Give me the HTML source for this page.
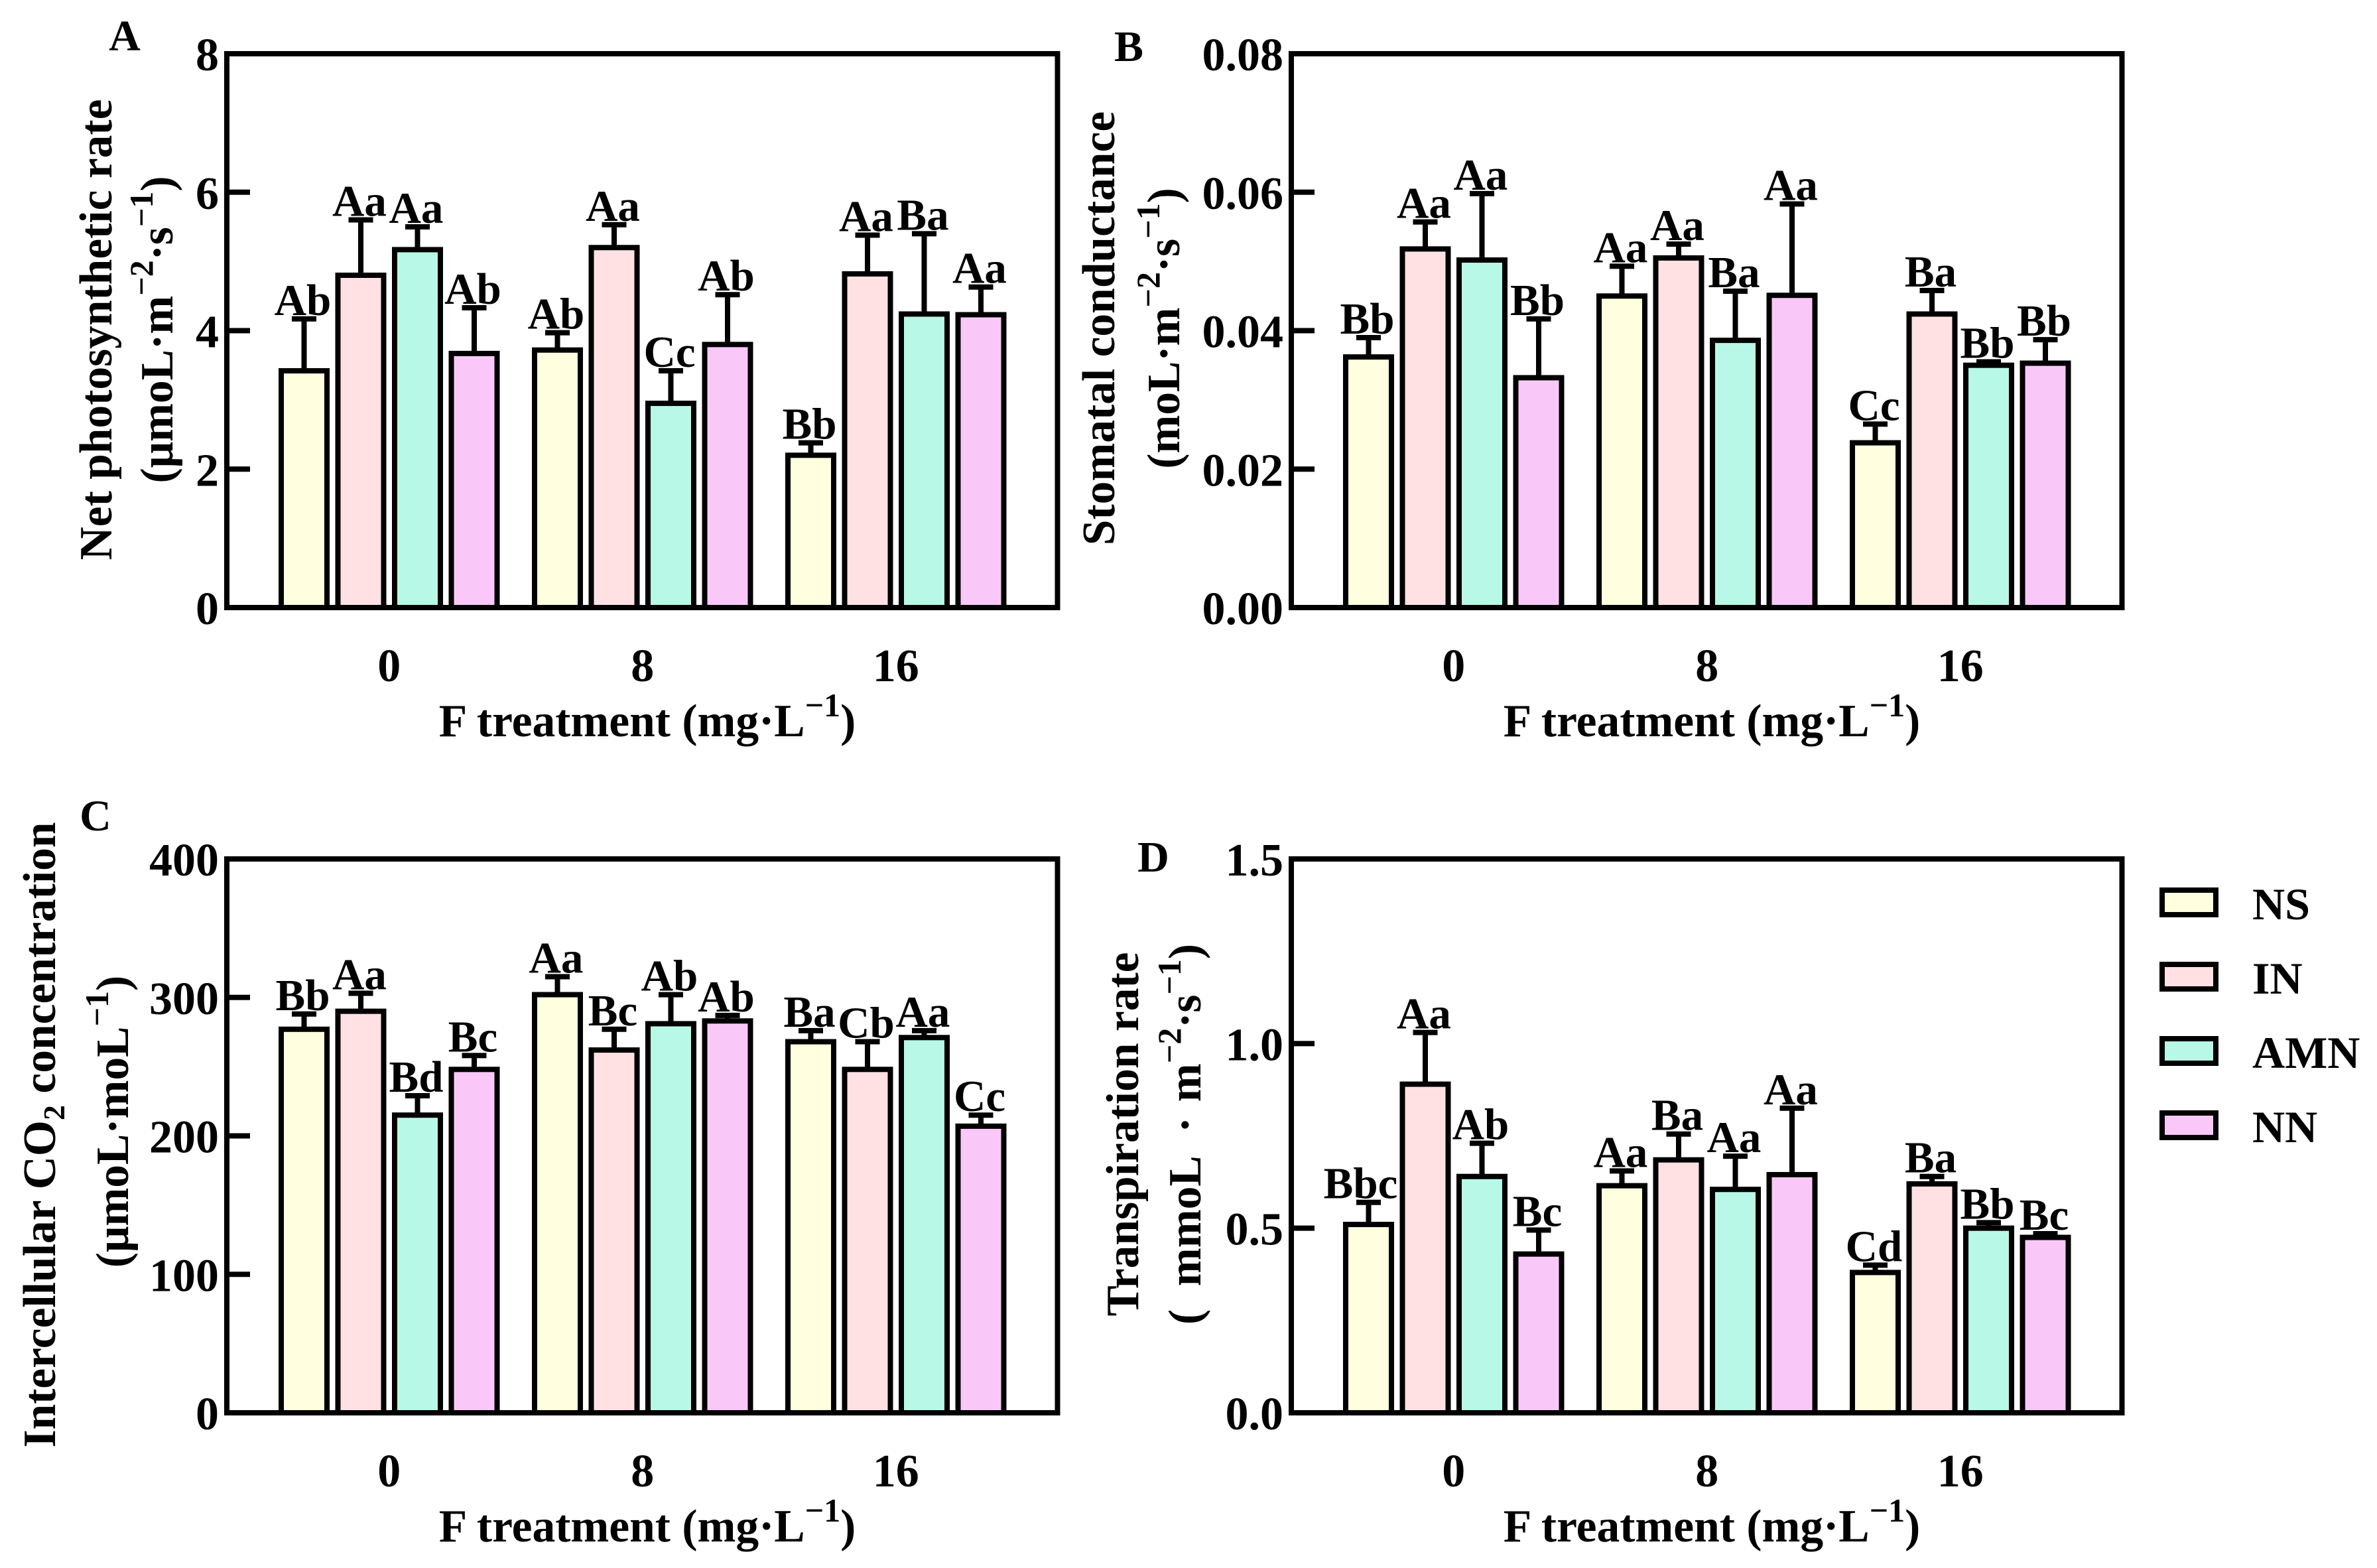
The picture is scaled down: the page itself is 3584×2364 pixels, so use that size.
<!DOCTYPE html>
<html lang="en">
<head>
<meta charset="utf-8">
<title>Gas exchange under F treatment</title>
<style>
html,body{margin:0;padding:0;background:#fff;}
svg{display:block;}
text{font-family:"Liberation Serif",serif;font-weight:bold;fill:#000;}
</style>
</head>
<body>
<svg id="chart" xmlns="http://www.w3.org/2000/svg" width="3584" height="2364" viewBox="0 0 3584 2364"></svg>
<script>
const categories = ['0', '8', '16'];
const seriesNames = ['NS', 'IN', 'AMN', 'NN'];
const seriesColors = ['#FFFFE0', '#FFE1E3', '#B8F8E6', '#F9C8F8'];

const aTicks = ['0', '2', '4', '6', '8'];
const aNS = [3.42, 3.72, 2.2];
const aIN = [4.8, 5.2, 4.82];
const aAMN = [5.17, 2.95, 4.24];
const aNN = [3.67, 3.8, 4.23];
const aNSErr = [0.75, 0.25, 0.18];
const aINErr = [0.8, 0.33, 0.56];
const aAMNErr = [0.33, 0.47, 1.16];
const aNNErr = [0.66, 0.72, 0.4];
const aNSSig = ['Ab', 'Ab', 'Bb'];
const aINSig = ['Aa', 'Aa', 'Aa'];
const aAMNSig = ['Aa', 'Cc', 'Ba'];
const aNNSig = ['Ab', 'Ab', 'Aa'];

const bTicks = ['0.00', '0.02', '0.04', '0.06', '0.08'];
const bNS = [0.0362, 0.045, 0.0238];
const bIN = [0.0518, 0.0505, 0.0424];
const bAMN = [0.0502, 0.0386, 0.035];
const bNN = [0.0332, 0.0451, 0.0353];
const bNSErr = [0.0028, 0.0043, 0.0027];
const bINErr = [0.0039, 0.002, 0.0034];
const bAMNErr = [0.0096, 0.0071, 0.0005];
const bNNErr = [0.0085, 0.0132, 0.0034];
const bNSSig = ['Bb', 'Aa', 'Cc'];
const bINSig = ['Aa', 'Aa', 'Ba'];
const bAMNSig = ['Aa', 'Ba', 'Bb'];
const bNNSig = ['Bb', 'Aa', 'Bb'];

const cTicks = ['0', '100', '200', '300', '400'];
const cNS = [277, 302, 268];
const cIN = [290, 262, 248];
const cAMN = [215, 281, 271];
const cNN = [248, 283, 207];
const cNSErr = [11, 13, 8];
const cINErr = [13, 15, 20];
const cAMNErr = [14, 21, 5];
const cNNErr = [10, 4, 8];
const cNSSig = ['Bb', 'Aa', 'Ba'];
const cINSig = ['Aa', 'Bc', 'Cb'];
const cAMNSig = ['Bd', 'Ab', 'Aa'];
const cNNSig = ['Bc', 'Ab', 'Cc'];

const dTicks = ['0.0', '0.5', '1.0', '1.5'];
const dNS = [0.51, 0.615, 0.38];
const dIN = [0.89, 0.685, 0.62];
const dAMN = [0.64, 0.605, 0.5];
const dNN = [0.43, 0.645, 0.475];
const dNSErr = [0.06, 0.04, 0.02];
const dINErr = [0.14, 0.07, 0.02];
const dAMNErr = [0.09, 0.09, 0.015];
const dNNErr = [0.065, 0.18, 0.01];
const dNSSig = ['Bbc', 'Aa', 'Cd'];
const dINSig = ['Aa', 'Ba', 'Ba'];
const dAMNSig = ['Ab', 'Aa', 'Bb'];
const dNNSig = ['Bc', 'Aa', 'Bc'];

const NS = 'http://www.w3.org/2000/svg';
const svg = document.getElementById('chart');
const TITLE_SIZE = 69.5;

function add(parent, tag, attrs, text) {
  const el = document.createElementNS(NS, tag);
  for (const k in attrs) el.setAttribute(k, attrs[k]);
  if (text !== undefined) el.textContent = text;
  parent.appendChild(el);
  return el;
}

function richText(el, parts) {
  parts.forEach(function (p) {
    if (p[1] === 'sup') {
      add(el, 'tspan', { dy: -30, 'font-size': 50 }, p[0]);
      add(el, 'tspan', { dy: 30, 'font-size': TITLE_SIZE }, '\u200b');
    } else if (p[1] === 'sub') {
      add(el, 'tspan', { dy: 14, 'font-size': 46 }, p[0]);
      add(el, 'tspan', { dy: -14, 'font-size': TITLE_SIZE }, '\u200b');
    } else {
      add(el, 'tspan', {}, p[0]);
    }
  });
}

function drawPanel(cfg) {
  const g = add(svg, 'g', {});
  
  
  const L = cfg.left, R = cfg.left + 1252.5, T = cfg.top, B = cfg.top + 835;
  const yScale = function (v) { return B - (v / cfg.yMax) * (B - T); };
  const xBand = function (c) { return L + 244.75 + c * 382; };
  const xBar = function (c, s) { return xBand(c) + (s - 1.5) * 85.5; };
  const BW = 69, CAP = 37, SW = 8;

  cfg.values.forEach(function (vals, s) {
    vals.forEach(function (v, c) {
      const x = xBar(c, s), top = yScale(v), errTop = yScale(v + cfg.errors[s][c]);
      const stem = add(g, 'line', { x1: x, x2: x, y1: top, y2: errTop, stroke: '#000', 'stroke-width': SW });
      
      
      const cap = add(g, 'line', { x1: x - CAP / 2, x2: x + CAP / 2, y1: errTop, y2: errTop, stroke: '#000', 'stroke-width': SW });
      
      
      const bar = add(g, 'rect', { x: x - BW / 2, y: top, width: BW, height: B - top, fill: seriesColors[s], stroke: '#000', 'stroke-width': SW });
      
      
      const sigText = cfg.sig[s][c];
      const sigX = sigText.length > 2 ? x - 12 : x - 2;
      const sig = add(g, 'text', { x: sigX, y: errTop - 6, 'font-size': 67, 'text-anchor': 'middle' }, sigText);
      
      
    });
  });

  const frame = add(g, 'rect', { x: L, y: T, width: R - L, height: B - T, fill: 'none', stroke: '#000', 'stroke-width': SW });
  
  

  const n = cfg.ticks.length;
  cfg.ticks.forEach(function (t, i) {
    const v = cfg.yMax * i / (n - 1), y = yScale(v);
    const tick = add(g, 'line', { x1: L, x2: L + 35, y1: y, y2: y, stroke: '#000', 'stroke-width': SW });
    
    
    const lab = add(g, 'text', { x: L - 12, y: y + 25, 'font-size': 70, 'text-anchor': 'end' }, t);
    
    
  });

  categories.forEach(function (cat, c) {
    const lab = add(g, 'text', { x: xBand(c), y: B + 111, 'font-size': 70, 'text-anchor': 'middle' }, cat);
    
    
  });

  const xt = add(g, 'text', { x: L + 634, y: B + 194, 'font-size': TITLE_SIZE, 'text-anchor': 'middle' });
  
  
  richText(xt, [['F treatment (mg\u00b7L'], ['\u22121', 'sup'], [')']]);

  cfg.titles.forEach(function (tl) {
    const yt = add(g, 'text', { transform: 'translate(' + tl.x + ',' + tl.y + ') rotate(-90)', 'font-size': TITLE_SIZE, 'text-anchor': 'middle' });
    
    
    richText(yt, tl.parts);
  });

  const letter = add(g, 'text', { x: cfg.letter[0], y: cfg.letter[1], 'font-size': 66, 'text-anchor': 'middle' }, cfg.name);
  
  
}

drawPanel({
  id: 'panel-a', name: 'A', left: 342, top: 81, yMax: 8, ticks: aTicks, letter: [188, 76],
  values: [aNS, aIN, aAMN, aNN], errors: [aNSErr, aINErr, aAMNErr, aNNErr], sig: [aNSSig, aINSig, aAMNSig, aNNSig],
  titles: [
    { x: 168, y: 497, parts: [['Net photosynthetic rate']] },
    { x: 260, y: 497, parts: [['(\u03bcmoL\u00b7m'], ['\u22122', 'sup'], ['\u00b7s'], ['\u22121', 'sup'], [')']] }
  ]
});
drawPanel({
  id: 'panel-b', name: 'B', left: 1947, top: 81, yMax: 0.08, ticks: bTicks, letter: [1702, 92],
  values: [bNS, bIN, bAMN, bNN], errors: [bNSErr, bINErr, bAMNErr, bNNErr], sig: [bNSSig, bINSig, bAMNSig, bNNSig],
  titles: [
    { x: 1680, y: 495, parts: [['Stomatal conductance']] },
    { x: 1778, y: 495, parts: [['(moL\u00b7m'], ['\u22122', 'sup'], ['\u00b7s'], ['\u22121', 'sup'], [')']] }
  ]
});
drawPanel({
  id: 'panel-c', name: 'C', left: 342, top: 1295, yMax: 400, ticks: cTicks, letter: [144, 1252],
  values: [cNS, cIN, cAMN, cNN], errors: [cNSErr, cINErr, cAMNErr, cNNErr], sig: [cNSSig, cINSig, cAMNSig, cNNSig],
  titles: [
    { x: 83, y: 1711, parts: [['Intercellular CO'], ['2', 'sub'], [' concentration']] },
    { x: 193, y: 1691, parts: [['(\u03bcmoL\u00b7moL'], ['\u22121', 'sup'], [')']] }
  ]
});
drawPanel({
  id: 'panel-d', name: 'D', left: 1947, top: 1295, yMax: 1.5, ticks: dTicks, letter: [1739, 1314],
  values: [dNS, dIN, dAMN, dNN], errors: [dNSErr, dINErr, dAMNErr, dNNErr], sig: [dNSSig, dINSig, dAMNSig, dNNSig],
  titles: [
    { x: 1716, y: 1710, parts: [['Transpiration rate']] },
    { x: 1810, y: 1710, parts: [['(\u2002mmoL\u2002\u00b7\u2004m'], ['\u22122', 'sup'], ['\u00b7s'], ['\u22121', 'sup'], [')']] }
  ]
});

const legend = add(svg, 'g', {});


const legendTop = 1342;
const legendStep = 112;
seriesNames.forEach(function (name, i) {
  const y = legendTop + i * legendStep;
  const sw = add(legend, 'rect', { x: 3260, y: y, width: 81, height: 37, fill: seriesColors[i], stroke: '#000', 'stroke-width': 8 });
  
  
  const tx = add(legend, 'text', { x: 3396, y: y + 44, 'font-size': 68 }, name);
  
  
});
</script>
</body>
</html>
